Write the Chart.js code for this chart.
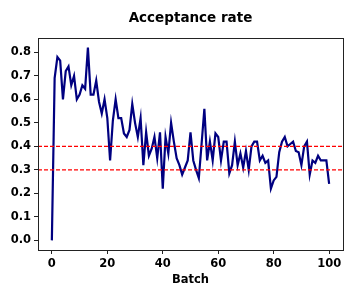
<!DOCTYPE html>
<html>
<head>
<meta charset="utf-8">
<script src="https://cdn.jsdelivr.net/npm/chart.js@4.4.1/dist/chart.umd.min.js"></script>
<style>
  html, body { margin: 0; padding: 0; background: #fff; }
  #wrap { width: 354px; height: 300px; }
</style>
</head>
<body>
<div id="wrap"><canvas id="myChart" width="354" height="300"></canvas></div>
<script>
// batch index for every recorded acceptance rate
const batches = Array.from({ length: 101 }, (_, i) => i);

// acceptance rate per batch
const acceptance = [
  0.00, 0.69, 0.78, 0.765, 0.60, 0.72, 0.74, 0.66, 0.70, 0.60,
  0.62, 0.66, 0.645, 0.82, 0.62, 0.62, 0.68, 0.59, 0.54, 0.60,
  0.52, 0.34, 0.51, 0.60, 0.52, 0.52, 0.455, 0.44, 0.47, 0.58,
  0.50, 0.44, 0.52, 0.32, 0.46, 0.36, 0.39, 0.44, 0.35, 0.46,
  0.22, 0.44, 0.37, 0.50, 0.42, 0.35, 0.32, 0.28, 0.31, 0.34,
  0.46, 0.34, 0.30, 0.265, 0.41, 0.56, 0.34, 0.42, 0.34, 0.455,
  0.44, 0.34, 0.42, 0.42, 0.285, 0.32, 0.42, 0.32, 0.37, 0.31,
  0.38, 0.30, 0.40, 0.42, 0.42, 0.34, 0.36, 0.33, 0.34, 0.22,
  0.255, 0.27, 0.375, 0.42, 0.44, 0.40, 0.41, 0.42, 0.38, 0.375,
  0.32, 0.40, 0.42, 0.28, 0.34, 0.33, 0.36, 0.34, 0.34, 0.34,
  0.24
];

// target band (red dashed reference lines)
const upperTarget = 0.4;
const lowerTarget = 0.3;

const xTicks = [0, 20, 40, 60, 80, 100];
const yTicks = [0.0, 0.1, 0.2, 0.3, 0.4, 0.5, 0.6, 0.7, 0.8];
const xRange = [-5, 105];
const yRange = [-0.041, 0.861];

const tickFont = { family: "'DejaVu Sans'", size: 11.5, weight: 'bold' };

// draws the box around the plot area (matplotlib spines)
const framePlugin = {
  id: 'frame',
  afterDraw(chart) {
    const { ctx, chartArea: a } = chart;
    ctx.save();
    ctx.strokeStyle = '#222';
    ctx.lineWidth = 1;
    ctx.strokeRect(Math.round(a.left) + 0.5, Math.round(a.top) + 0.5,
      Math.round(a.right - a.left), Math.round(a.bottom - a.top));
    ctx.restore();
  }
};

const hLine = (y) => [{ x: xRange[0], y: y }, { x: xRange[1], y: y }];

const ctx = document.getElementById('myChart').getContext('2d');
new Chart(ctx, {
  type: 'line',
  data: {
    datasets: [
      {
        data: hLine(upperTarget),
        borderColor: 'red',
        borderWidth: 1.1,
        borderDash: [4, 2],
        pointRadius: 0,
        order: 0
      },
      {
        data: hLine(lowerTarget),
        borderColor: 'red',
        borderWidth: 1.1,
        borderDash: [4, 2],
        pointRadius: 0,
        order: 0
      },
      {
        label: 'Acceptance rate',
        data: batches.map((b, i) => ({ x: b, y: acceptance[i] })),
        borderColor: '#000080',
        borderWidth: 2.2,
        pointRadius: 0,
        tension: 0,
        fill: false,
        order: 1
      }
    ]
  },
  options: {
    responsive: false,
    animation: false,
    layout: { padding: { left: 0, right: 11, top: 0, bottom: 0 } },
    plugins: {
      legend: { display: false },
      tooltip: { enabled: false },
      title: {
        display: true,
        fullSize: false,
        text: 'Acceptance rate',
        color: '#000',
        font: { family: "'DejaVu Sans'", size: 13.5, weight: 'bold' },
        padding: { top: 10, bottom: 11.8 }
      }
    },
    scales: {
      x: {
        type: 'linear',
        min: xRange[0],
        max: xRange[1],
        afterBuildTicks: (scale) => { scale.ticks = xTicks.map(v => ({ value: v })); },
        afterFit: (scale) => { scale.height = 50; },
        grid: { drawOnChartArea: false, drawTicks: true, tickLength: 4, color: '#222' },
        border: { display: false },
        ticks: { color: '#000', font: tickFont, padding: 3, maxRotation: 0 },
        title: {
          display: true,
          text: 'Batch',
          color: '#000',
          font: { family: "'DejaVu Sans'", size: 11.5, weight: 'bold' },
          padding: { top: 0, bottom: 13 }
        }
      },
      y: {
        type: 'linear',
        min: yRange[0],
        max: yRange[1],
        afterBuildTicks: (scale) => { scale.ticks = yTicks.map(v => ({ value: v })); },
        afterFit: (scale) => { scale.width = 38; },
        grid: { drawOnChartArea: false, drawTicks: true, tickLength: 4, color: '#222' },
        border: { display: false },
        ticks: {
          color: '#000',
          font: tickFont,
          padding: 3,
          callback: (v) => Number(v).toFixed(1)
        }
      }
    }
  },
  plugins: [framePlugin]
});
</script>
</body>
</html>
